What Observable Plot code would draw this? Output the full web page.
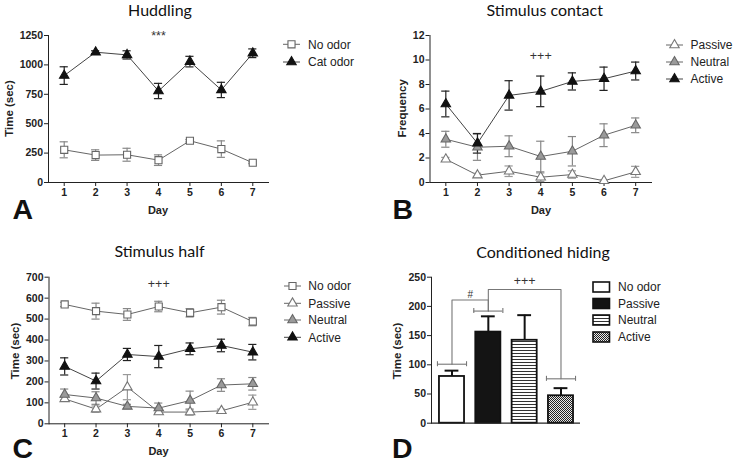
<!DOCTYPE html>
<html>
<head>
<meta charset="utf-8">
<script src="https://cdn.jsdelivr.net/npm/d3@7"></script>
<script src="https://cdn.jsdelivr.net/npm/@observablehq/plot@0.6"></script>
<style>
  html, body { margin: 0; padding: 0; background: #fff; }
  #root { position: relative; width: 733px; height: 464px; overflow: hidden; }
</style>
</head>
<body>
<div id="root"></div>
<script>
// ---------------- DATA ----------------
const days = [1, 2, 3, 4, 5, 6, 7];

// A: Huddling (Time, sec)
const huddleNoOdor = [278, 233, 236, 190, 355, 284, 168];
const huddleNoOdorSem = [68, 45, 55, 45, 10, 70, 8];
const huddleCatOdor = [909, 1108, 1085, 778, 1028, 787, 1099];
const huddleCatOdorSem = [75, 12, 35, 65, 45, 65, 37];
const huddleTicks = [0, 250, 500, 750, 1000, 1250];

// B: Stimulus contact (Frequency)
const contactPassive = [1.9, 0.6, 0.92, 0.43, 0.65, 0.14, 0.87];
const contactPassiveSem = [0.15, 0.15, 0.43, 0.35, 0.3, 0.1, 0.45];
const contactNeutral = [3.53, 2.88, 2.96, 2.12, 2.55, 3.86, 4.67];
const contactNeutralSem = [0.65, 1.07, 0.85, 1.25, 1.2, 0.93, 0.6];
const contactActive = [6.41, 3.2, 7.11, 7.44, 8.25, 8.47, 9.1];
const contactActiveSem = [1.05, 0.8, 1.2, 1.25, 0.7, 0.95, 0.73];
const contactTicks = [0, 2, 4, 6, 8, 10, 12];

// C: Stimulus half (Time, sec)
const halfNoOdor = [570, 538, 522, 560, 530, 557, 488];
const halfNoOdorSem = [10, 38, 28, 25, 20, 33, 20];
const halfPassive = [119, 70, 175, 56, 56, 62, 103];
const halfPassiveSem = [8, 15, 60, 10, 15, 8, 34];
const halfNeutral = [140, 123, 83, 75, 111, 185, 191];
const halfNeutralSem = [26, 30, 10, 24, 45, 30, 30];
const halfActive = [274, 204, 331, 321, 358, 374, 342];
const halfActiveSem = [41, 38, 29, 53, 28, 30, 37];
const halfTicks = [0, 100, 200, 300, 400, 500, 600, 700];

// D: Conditioned hiding (Time, sec)
const hidingGroups = ["No odor", "Passive", "Neutral", "Active"];
const hidingMean = [80, 156, 142, 47];
const hidingSem = [10, 27, 43, 13];
const hidingTicks = [0, 50, 100, 150, 200, 250];
// comparison brackets (group index 1..4, values in sec)
const bracketFeet = [101, 192, null, 76];
const bracketFrom = [1, 2];
const bracketTo = [2, 4];
const bracketTop = [211, 229];
const bracketLabels = ["#", "+++"];
const bracketLabelValue = [221, 244];

// significance notes on line panels
const noteA = {day: 4, value: 1250, label: "***"};
const noteB = {day: 4, value: 10.36, label: "+++"};
const noteC = {day: 4, value: 668, label: "+++"};

const panelTitles = ["Huddling", "Stimulus contact", "Stimulus half", "Conditioned hiding"];
const panelLetters = ["A", "B", "C", "D"];

// ---------------- STYLES ----------------
const FONT = "'Liberation Sans', Arial, Helvetica, sans-serif";
const S = {
  noOdor:  {symbol: "square",   r: 4,   fill: "white", stroke: "#666", err: "#888", line: "#666"},
  cat:     {symbol: "triangle", r: 3.5, fill: "#111",  stroke: "#111", err: "#222", line: "#444"},
  active:  {symbol: "triangle", r: 3.5, fill: "#111",  stroke: "#111", err: "#222", line: "#444"},
  neutral: {symbol: "triangle", r: 3.5, fill: "#9a9a9a", stroke: "#666", err: "#888", line: "#666"},
  passive: {symbol: "triangle", r: 3.5, fill: "white", stroke: "#777", err: "#999", line: "#666"}
};
const barFill = {"No odor": "white", "Passive": "#141414", "Neutral": "url(#pat-stripes)", "Active": "url(#pat-checks)"};

const root = document.getElementById("root");
function place(node, left, top) {
  node.style.position = "absolute";
  node.style.left = left + "px";
  node.style.top = top + "px";
  root.appendChild(node);
}

const capHalf = 0.13;

function linePanel(o) {
  const sets = o.series.map(s => ({
    s,
    data: days.map((d, i) => ({day: d, v: s.values[i], lo: s.values[i] - s.sem[i], hi: s.values[i] + s.sem[i]}))
  }));
  const marks = [];
  for (const {s, data} of sets) marks.push(Plot.line(data, {x: "day", y: "v", stroke: s.style.line, strokeWidth: 1}));
  for (const {s, data} of sets) {
    marks.push(
      Plot.ruleX(data, {x: "day", y1: "lo", y2: "hi", stroke: s.style.err, strokeWidth: 1.2}),
      Plot.ruleY(data, {y: "hi", x1: d => d.day - capHalf, x2: d => d.day + capHalf, stroke: s.style.err, strokeWidth: 1.2}),
      Plot.ruleY(data, {y: "lo", x1: d => d.day - capHalf, x2: d => d.day + capHalf, stroke: s.style.err, strokeWidth: 1.2})
    );
  }
  for (const {s, data} of sets) {
    marks.push(Plot.dot(data, {x: "day", y: "v", symbol: s.style.symbol, r: s.style.r, fill: s.style.fill, stroke: s.style.stroke, strokeWidth: 1.1}));
  }
  marks.push(Plot.text([o.note], {x: "day", y: "value", text: "label", fontSize: 12.5, fontWeight: "normal", fill: "#333", lineAnchor: "bottom", dy: 4.5, fontFamily: FONT}));
  return Plot.plot({
    width: o.width, height: o.height,
    marginLeft: o.marginLeft, marginRight: o.marginRight, marginTop: o.marginTop, marginBottom: o.marginBottom,
    x: {domain: [0.5, 7.5], ticks: days, tickFormat: "d", tickSize: 4, tickPadding: 2, line: true, label: null},
    y: {domain: o.yDomain, ticks: o.yTicks, tickFormat: "d", tickSize: 4, tickPadding: 1.5, line: true, label: null},
    style: {fontFamily: FONT, fontSize: "10.5px", fontWeight: "bold", color: "#222", background: "none", overflow: "visible"},
    marks
  });
}

// ---------- Panel A ----------
const plotA = linePanel({
  width: 370, height: 230, marginLeft: 48, marginRight: 102, marginTop: 35, marginBottom: 48,
  yDomain: [0, 1250], yTicks: huddleTicks, note: noteA,
  series: [
    {values: huddleNoOdor, sem: huddleNoOdorSem, style: S.noOdor},
    {values: huddleCatOdor, sem: huddleCatOdorSem, style: S.cat}
  ]
});
place(plotA, 0, 0);

// ---------- Panel B ----------
const plotB = linePanel({
  width: 363, height: 230, marginLeft: 59.5, marginRight: 82, marginTop: 35, marginBottom: 48,
  yDomain: [0, 12], yTicks: contactTicks, note: noteB,
  series: [
    {values: contactPassive, sem: contactPassiveSem, style: S.passive},
    {values: contactNeutral, sem: contactNeutralSem, style: S.neutral},
    {values: contactActive, sem: contactActiveSem, style: S.active}
  ]
});
place(plotB, 370, 0);

// ---------- Panel C ----------
const plotC = linePanel({
  width: 370, height: 234, marginLeft: 48.5, marginRight: 102, marginTop: 46.7, marginBottom: 40.7,
  yDomain: [0, 700], yTicks: halfTicks, note: noteC,
  series: [
    {values: halfNoOdor, sem: halfNoOdorSem, style: S.noOdor},
    {values: halfPassive, sem: halfPassiveSem, style: S.passive},
    {values: halfNeutral, sem: halfNeutralSem, style: S.neutral},
    {values: halfActive, sem: halfActiveSem, style: S.active}
  ]
});
place(plotC, 0, 230);

// ---------- Panel D ----------
const hiding = hidingGroups.map((g, k) => ({group: g, i: k + 1, mean: hidingMean[k], top: hidingMean[k] + hidingSem[k]}));
const barHalf = 0.345, errCap = 0.19, footHalf = 0.4, footTick = 4.3;
const feet = bracketFeet.map((v, k) => ({i: k + 1, v})).filter(d => d.v != null);
const footOf = i => bracketFeet[i - 1];
const bracketPaths = bracketFrom.flatMap((f, k) => [
  {b: k, x: f, y: footOf(f)},
  {b: k, x: f, y: bracketTop[k]},
  {b: k, x: bracketTo[k], y: bracketTop[k]},
  {b: k, x: bracketTo[k], y: footOf(bracketTo[k])}
]);
const bracketText = bracketFrom.map((f, k) => ({x: (f + bracketTo[k]) / 2, y: bracketLabelValue[k], label: bracketLabels[k]}));

const plotD = Plot.plot({
  width: 363, height: 234,
  marginLeft: 61, marginRight: 153, marginTop: 46.7, marginBottom: 41.3,
  x: {domain: [0.436, 4.537], axis: null},
  y: {domain: [0, 250], ticks: hidingTicks, tickFormat: "d", tickSize: 4, tickPadding: 1.5, line: true, label: null},
  color: {type: "identity"},
  style: {fontFamily: FONT, fontSize: "10.5px", fontWeight: "bold", color: "#222", background: "none", overflow: "visible"},
  marks: [
    Plot.ruleX(hiding, {x: "i", y1: "mean", y2: "top", stroke: "#111", strokeWidth: 2}),
    Plot.ruleY(hiding, {y: "top", x1: d => d.i - errCap, x2: d => d.i + errCap, stroke: "#111", strokeWidth: 2}),
    Plot.rectY(hiding, {x1: d => d.i - barHalf, x2: d => d.i + barHalf, y1: 0, y2: "mean", fill: d => barFill[d.group], stroke: "#111", strokeWidth: 1.8}),
    Plot.ruleY([0], {stroke: "#222", strokeWidth: 1.2}),
    Plot.line(bracketPaths, {x: "x", y: "y", z: "b", stroke: "#777", strokeWidth: 1.1, curve: "linear"}),
    Plot.ruleY(feet, {y: "v", x1: d => d.i - footHalf, x2: d => d.i + footHalf, stroke: "#777", strokeWidth: 1.1}),
    Plot.ruleX(feet, {x: d => d.i - footHalf, y1: d => d.v - footTick, y2: d => d.v + footTick, stroke: "#777", strokeWidth: 1.1}),
    Plot.ruleX(feet, {x: d => d.i + footHalf, y1: d => d.v - footTick, y2: d => d.v + footTick, stroke: "#777", strokeWidth: 1.1}),
    Plot.text(bracketText, {x: "x", y: "y", text: "label", fontSize: d => d.label === "#" ? 10 : 12.5, fontWeight: "normal", fill: "#333", lineAnchor: "bottom", dy: 4, fontFamily: FONT})
  ]
});
// patterns for bar fills
{
  const defs = d3.select(plotD).insert("defs", ":first-child");
  const st = defs.append("pattern").attr("id", "pat-stripes").attr("patternUnits", "userSpaceOnUse").attr("width", 4).attr("height", 3);
  st.append("rect").attr("width", 4).attr("height", 3).attr("fill", "white");
  st.append("rect").attr("width", 4).attr("height", 1).attr("fill", "#333");
  const ch = defs.append("pattern").attr("id", "pat-checks").attr("patternUnits", "userSpaceOnUse").attr("width", 2).attr("height", 2);
  ch.append("rect").attr("width", 2).attr("height", 2).attr("fill", "#e8e8e8");
  ch.append("rect").attr("x", 0).attr("y", 0).attr("width", 1).attr("height", 1).attr("fill", "#222");
  ch.append("rect").attr("x", 1).attr("y", 1).attr("width", 1).attr("height", 1).attr("fill", "#222");
}
place(plotD, 370, 230);

// ---------------- OVERLAY TEXT & LEGENDS ----------------
const ov = d3.create("svg").attr("width", 733).attr("height", 464)
  .style("position", "absolute").style("left", "0px").style("top", "0px").style("pointer-events", "none");

const titleLayout = [[160, 15.7], [544.7, 15.7], [159.5, 256.7], [543, 257.7]];
panelTitles.forEach((t, k) => {
  ov.append("text").attr("x", titleLayout[k][0]).attr("y", titleLayout[k][1]).attr("text-anchor", "middle")
    .attr("font-family", "Lato, 'Open Sans', sans-serif").attr("font-size", 16).attr("fill", "#111").text(t);
});
const letterLayout = [[12.5, 219], [392.5, 218.5], [12.5, 457.5], [392, 457.5]];
panelLetters.forEach((t, k) => {
  ov.append("text").attr("x", letterLayout[k][0]).attr("y", letterLayout[k][1])
    .attr("font-family", FONT).attr("font-weight", "bold").attr("font-size", 28.5).attr("fill", "#111").text(t);
});
const xLabels = [["Day", 158, 214], ["Day", 541, 214], ["Day", 158.5, 455]];
xLabels.forEach(([t, x, y]) => {
  ov.append("text").attr("x", x).attr("y", y).attr("text-anchor", "middle")
    .attr("font-family", FONT).attr("font-weight", "bold").attr("font-size", 11).attr("fill", "#222").text(t);
});
const yLabels = [["Time (sec)", 12.5, 108.5], ["Frequency", 406, 108.3], ["Time (sec)", 19, 351], ["Time (sec)", 401, 351]];
yLabels.forEach(([t, x, y]) => {
  ov.append("text").attr("transform", `translate(${x},${y}) rotate(-90)`).attr("text-anchor", "middle")
    .attr("font-family", FONT).attr("font-weight", "bold").attr("font-size", 11.5).attr("fill", "#222").text(t);
});

function lineLegend(x0, textX, rows) {
  rows.forEach(([label, st, y]) => {
    ov.append("line").attr("x1", x0).attr("x2", x0 + 17).attr("y1", y).attr("y2", y).attr("stroke", st.line).attr("stroke-width", 1);
    const sym = st.symbol === "square" ? d3.symbolSquare : d3.symbolTriangle;
    ov.append("path").attr("d", d3.symbol(sym, Math.PI * st.r * st.r)())
      .attr("transform", `translate(${x0 + 8.5},${y})`).attr("fill", st.fill).attr("stroke", st.stroke).attr("stroke-width", 1.1);
    ov.append("text").attr("x", textX).attr("y", y + 4.3).attr("font-family", FONT).attr("font-size", 12).attr("fill", "#222").text(label);
  });
}
lineLegend(283, 308, [["No odor", S.noOdor, 44.3], ["Cat odor", S.cat, 62]]);
lineLegend(666, 690.5, [["Passive", S.passive, 45], ["Neutral", S.neutral, 62], ["Active", S.active, 79]]);
lineLegend(284, 308.3, [["No odor", S.noOdor, 286], ["Passive", S.passive, 303.3], ["Neutral", S.neutral, 320], ["Active", S.active, 337.3]]);

const barLegendRows = [287, 303.5, 320, 337];
hidingGroups.forEach((g, k) => {
  const y = barLegendRows[k];
  ov.append("rect").attr("x", 593).attr("y", y - 5).attr("width", 16.5).attr("height", 10)
    .attr("fill", barFill[g]).attr("stroke", "#111").attr("stroke-width", 1.6);
  ov.append("text").attr("x", 618).attr("y", y + 4.3).attr("font-family", FONT).attr("font-size", 12).attr("fill", "#222").text(g);
});

root.appendChild(ov.node());
</script>
</body>
</html>
